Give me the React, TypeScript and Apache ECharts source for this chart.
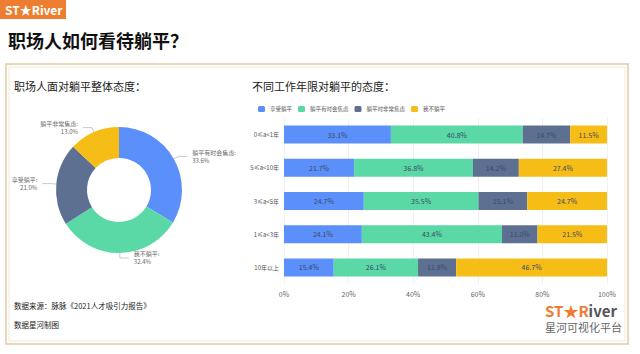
import React, { useEffect, useRef } from "react";
import * as echarts from "echarts";

const pieNames = ["躺平有时会焦虑", "我不躺平", "享受躺平", "躺平非常焦虑"];
const pieValues = [33.6, 32.4, 21.0, 13.0];

const categories = ["0≤a<1年", "5≤a<10年", "3≤a<5年", "1≤a<3年", "10年以上"];
const seriesNames = ["享受躺平", "躺平有时会焦虑", "躺平时非常焦虑", "我不躺平"];
const enjoy = [33.1, 21.7, 24.7, 24.1, 15.4];
const sometimesAnxious = [40.8, 36.8, 35.5, 43.4, 26.1];
const veryAnxious = [14.7, 14.2, 15.1, 11.0, 11.8];
const notFlat = [11.5, 27.4, 24.7, 21.5, 46.7];
const xTicks = [0, 20, 40, 60, 80, 100];

const BLUE = "#5B8FF9";
const GREEN = "#5AD8A6";
const SLATE = "#5D7092";
const YELLOW = "#F6BD16";
const FONT = "'Noto Sans CJK SC', 'Noto Sans', sans-serif";

export default function App() {
  const ref = useRef<HTMLDivElement>(null);
  useEffect(() => {
    const chart = echarts.init(ref.current!, null, { renderer: "svg" });
    const barData = [enjoy, sometimesAnxious, veryAnxious, notFlat];
    const barColors = [BLUE, GREEN, SLATE, YELLOW];
    chart.setOption({
      animation: false,
      backgroundColor: "#ffffff",
      textStyle: { fontFamily: FONT },
      legend: {
        left: 253,
        top: 101,
        itemWidth: 7,
        itemHeight: 6,
        itemGap: 6,
        icon: "roundRect",
        textStyle: { fontSize: 5.5, color: "#555", fontFamily: FONT },
        data: seriesNames,
      },
      grid: { left: 284, right: 33, top: 118, height: 166 },
      xAxis: {
        type: "value",
        min: 0,
        max: 100,
        interval: 20,
        axisLabel: {
          formatter: (v: number) => (xTicks.includes(v) ? v + "%" : ""),
          fontSize: 7,
          color: "#666",
          margin: 6,
        },
        splitLine: { lineStyle: { color: "#f0f0f0" } },
        axisLine: { show: false },
        axisTick: { show: false },
      },
      yAxis: {
        type: "category",
        inverse: true,
        data: categories,
        axisLine: { show: false },
        axisTick: { show: false },
        axisLabel: { fontSize: 6, color: "#555", margin: 5 },
      },
      series: [
        {
          type: "pie",
          center: [119, 190],
          radius: [32, 63],
          startAngle: 90,
          clockwise: true,
          color: [BLUE, GREEN, SLATE, YELLOW],
          label: {
            show: true,
            fontSize: 6,
            color: "#666",
            lineHeight: 8,
            overflow: "none",
            formatter: (p: any) => p.name + ":\n" + Number(p.value).toFixed(1) + "%",
          },
          labelLine: { length: 5, length2: 9, lineStyle: { color: "#ccc" } },
          data: pieNames.map((n, i) => ({ name: n, value: pieValues[i] })),
        },
        ...seriesNames.map((name, i) => ({
          name,
          type: "bar",
          stack: "total",
          barWidth: 18,
          itemStyle: { color: barColors[i] },
          label: {
            show: true,
            position: "inside",
            fontSize: 7,
            color: "#3c4a66",
            formatter: (p: any) => Number(p.value).toFixed(1) + "%",
          },
          data: barData[i],
        })),
      ],
      graphic: [
        { type: "rect", shape: { x: 0, y: 0, width: 66, height: 19 }, style: { fill: "#ED7D31" } },
        {
          type: "text",
          left: 5,
          top: 3,
          style: { text: "ST★River", fill: "#fff", font: "bold 12px " + FONT },
        },
        {
          type: "text",
          left: 8,
          top: 31,
          style: { text: "职场人如何看待躺平？", fill: "#111", font: "bold 18px " + FONT },
        },
        {
          type: "rect",
          shape: { x: 6, y: 64, width: 622, height: 280 },
          style: { fill: "none", stroke: "#E8D7BB", lineWidth: 2 },
        },
        {
          type: "rect",
          shape: { x: 9, y: 67, width: 616, height: 274 },
          style: { fill: "none", stroke: "#F3E9D8", lineWidth: 1 },
        },
        {
          type: "text",
          left: 14,
          top: 80,
          style: { text: "职场人面对躺平整体态度：", fill: "#222", font: "11px " + FONT },
        },
        {
          type: "text",
          left: 252,
          top: 80,
          style: { text: "不同工作年限对躺平的态度：", fill: "#222", font: "11px " + FONT },
        },
        {
          type: "text",
          left: 14,
          top: 302,
          style: { text: "数据来源：脉脉《2021人才吸引力报告》", fill: "#222", font: "7.5px " + FONT },
        },
        {
          type: "text",
          left: 14,
          top: 321,
          style: { text: "数据星河制图", fill: "#222", font: "7.5px " + FONT },
        },
        {
          type: "text",
          left: 545,
          top: 303,
          style: {
            text: "{o|ST★R}{g|iver}",
            rich: {
              o: { fill: "#ED7D31", font: "bold 15px " + FONT, lineHeight: 16 },
              g: { fill: "#555", font: "bold 15px " + FONT, lineHeight: 16 },
            },
          },
        },
        {
          type: "text",
          left: 545,
          top: 321,
          style: { text: "星河可视化平台", fill: "#666", font: "11px " + FONT, lineHeight: 12 },
        },
      ],
    });
    return () => chart.dispose();
  }, []);
  return (
    <div
      ref={ref}
      style={{ position: "fixed", left: 0, top: 0, width: 640, height: 354 }}
    />
  );
}
